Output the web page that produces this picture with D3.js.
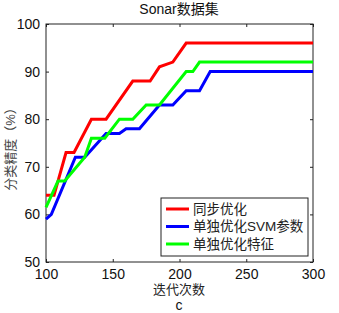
<!DOCTYPE html>
<html>
<head>
	<meta charset="utf-8">
	<title>Sonar数据集</title>
	<script src="https://d3js.org/d3.v7.min.js"></script>
	<style>
		body { margin: 0; background: #fff; }
		text { font-family: "Liberation Sans", Arial, "Noto Sans CJK SC", sans-serif; }
	</style>
</head>
<body>
	<div class="chart"></div>

	<script type="text/javascript">

		// 坐标刻度
		const xTicks = [100, 150, 200, 250, 300]
		const yTicks = [50, 60, 70, 80, 90, 100]

		// 图例名称
		const names = ['同步优化', '单独优化SVM参数', '单独优化特征']
		const colors = ['#ff0000', '#0000ff', '#00ff00']

		// 数据 (迭代次数, 精度)
		const iterSync = [100, 106, 115, 121, 134, 145, 165, 178, 185, 195, 205, 300]
		const accSync = [64, 64, 73, 73, 80, 80, 88, 88, 91, 92, 96, 96]

		const iterSvm = [100, 104, 122, 129, 145, 155, 160, 170, 185, 195, 205, 215, 223, 300]
		const accSvm = [59, 60, 72, 72, 77, 77, 78, 78, 83, 83, 86, 86, 90, 90]

		const iterFeat = [100, 109, 114, 129, 134, 144, 155, 165, 175, 185, 205, 210, 215, 300]
		const accFeat = [61.5, 67, 67, 72, 76, 76, 80, 80, 83, 83, 90, 90, 92, 92]

		const width = 339
		const height = 313
		const pLeft = 46, pRight = 313, pTop = 24, pBottom = 262

		const svg = d3
			.select('.chart')
			.append('svg')
			.attr('width', width)
			.attr('height', height)

		// 比例尺
		const x = d3.scaleLinear().domain([100, 300]).range([pLeft, pRight])
		const y = d3.scaleLinear().domain([50, 100]).range([pBottom, pTop])

		// 坐标轴 (刻度朝内)
		const axisStyle = (g) => {
			g.select('.domain').remove()
			g.selectAll('line').attr('stroke', '#222')
			g.selectAll('text').attr('fill', '#111').style('font-size', '14px')
		}

		svg.append('g')
			.attr('transform', `translate(0, ${pBottom})`)
			.call(d3.axisBottom(x).tickValues(xTicks).tickSizeInner(-3).tickSizeOuter(0).tickPadding(7))
			.call(axisStyle)

		svg.append('g')
			.attr('transform', `translate(0, ${pTop})`)
			.call(d3.axisTop(x).tickValues(xTicks).tickSizeInner(-3).tickSizeOuter(0).tickFormat(''))
			.call(axisStyle)

		svg.append('g')
			.attr('transform', `translate(${pLeft}, 0)`)
			.call(d3.axisLeft(y).tickValues(yTicks).tickSizeInner(-3).tickSizeOuter(0).tickPadding(6))
			.call(axisStyle)

		svg.append('g')
			.attr('transform', `translate(${pRight}, 0)`)
			.call(d3.axisRight(y).tickValues(yTicks).tickSizeInner(-3).tickSizeOuter(0).tickFormat(''))
			.call(axisStyle)

		// 边框
		svg.append('rect')
			.attr('x', pLeft)
			.attr('y', pTop)
			.attr('width', pRight - pLeft)
			.attr('height', pBottom - pTop)
			.attr('fill', 'none')
			.attr('stroke', '#222')
			.attr('stroke-width', 1)

		// 折线
		const seriesData = [
			iterSync.map((d, i) => [d, accSync[i]]),
			iterSvm.map((d, i) => [d, accSvm[i]]),
			iterFeat.map((d, i) => [d, accFeat[i]])
		]

		const line = d3.line().x((d) => x(d[0])).y((d) => y(d[1]))

		svg.append('g')
			.selectAll('path')
			.data(seriesData)
			.enter()
			.append('path')
			.attr('d', line)
			.attr('fill', 'none')
			.attr('stroke', (d, i) => colors[i])
			.attr('stroke-width', 3)
			.attr('stroke-linejoin', 'miter')

		// 图例
		const legend = svg.append('g')
		legend.append('rect')
			.attr('x', 161)
			.attr('y', 198)
			.attr('width', 147)
			.attr('height', 58)
			.attr('fill', '#fff')
			.attr('stroke', '#222')

		const items = legend.selectAll('.item')
			.data(names)
			.enter()
			.append('g')
			.attr('class', 'item')
			.attr('transform', (d, i) => `translate(166, ${209 + i * 17.5})`)

		items.append('line')
			.attr('x1', 0)
			.attr('x2', 23)
			.attr('stroke', (d, i) => colors[i])
			.attr('stroke-width', 3)

		items.append('text')
			.attr('x', 27)
			.attr('dy', '0.36em')
			.attr('fill', '#222')
			.style('font-size', '13.5px')
			.text((d) => d)

		// 标题和轴标签
		svg.append('text')
			.attr('x', 179)
			.attr('y', 14)
			.attr('text-anchor', 'middle')
			.attr('fill', '#111')
			.style('font-size', '14px')
			.text('Sonar数据集')

		svg.append('text')
			.attr('x', 179)
			.attr('y', 294)
			.attr('text-anchor', 'middle')
			.attr('fill', '#222')
			.style('font-size', '13px')
			.text('迭代次数')

		svg.append('text')
			.attr('x', 179)
			.attr('y', 310)
			.attr('text-anchor', 'middle')
			.attr('fill', '#111')
			.style('font-size', '14px')
			.text('c')

		svg.append('text')
			.attr('transform', 'translate(15, 146) rotate(-90)')
			.attr('text-anchor', 'middle')
			.attr('fill', '#444')
			.style('font-size', '13px')
			.text('分类精度（%）')

	</script>
</body>
</html>
